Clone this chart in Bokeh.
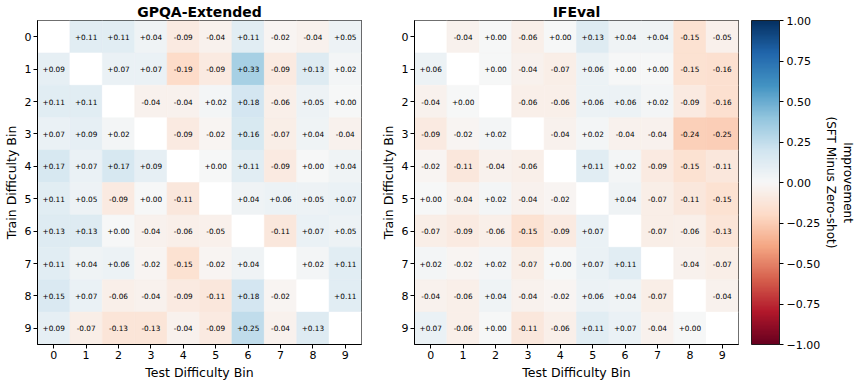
import numpy as np
from bokeh.plotting import figure
from bokeh.models import (Range1d, FixedTicker, LinearColorMapper, ColorBar,
                          LinearAxis, ColumnDataSource)
from bokeh.transform import transform
from bokeh.core.properties import value
from bokeh.layouts import row
from bokeh.embed import file_html
from bokeh.resources import INLINE

# ---------------- data ----------------
TRAIN_BINS = [0, 1, 2, 3, 4, 5, 6, 7, 8, 9]
TEST_BINS = [0, 1, 2, 3, 4, 5, 6, 7, 8, 9]
TICK_LABELS = ["0", "1", "2", "3", "4", "5", "6", "7", "8", "9"]

# rows = train bin, columns = test bin; None = diagonal (not shown)
GPQA = [
    [None, 0.11, 0.11, 0.04, -0.09, -0.04, 0.11, -0.02, -0.04, 0.05],
    [0.09, None, 0.07, 0.07, -0.19, -0.09, 0.33, -0.09, 0.13, 0.02],
    [0.11, 0.11, None, -0.04, -0.04, 0.02, 0.18, -0.06, 0.05, 0.00],
    [0.07, 0.09, 0.02, None, -0.09, -0.02, 0.16, -0.07, 0.04, -0.04],
    [0.17, 0.07, 0.17, 0.09, None, 0.00, 0.11, -0.09, 0.00, 0.04],
    [0.11, 0.05, -0.09, 0.00, -0.11, None, 0.04, 0.06, 0.05, 0.07],
    [0.13, 0.13, 0.00, -0.04, -0.06, -0.05, None, -0.11, 0.07, 0.05],
    [0.11, 0.04, 0.06, -0.02, -0.15, -0.02, 0.04, None, 0.02, 0.11],
    [0.15, 0.07, -0.06, -0.04, -0.09, -0.11, 0.18, -0.02, None, 0.11],
    [0.09, -0.07, -0.13, -0.13, -0.04, -0.09, 0.25, -0.04, 0.13, None],
]

IFEVAL = [
    [None, -0.04, 0.00, -0.06, 0.00, 0.13, 0.04, 0.04, -0.15, -0.05],
    [0.06, None, 0.00, -0.04, -0.07, 0.06, 0.00, 0.00, -0.15, -0.16],
    [-0.04, 0.00, None, -0.06, -0.06, 0.06, 0.06, 0.02, -0.09, -0.16],
    [-0.09, -0.02, 0.02, None, -0.04, 0.02, -0.04, -0.04, -0.24, -0.25],
    [-0.02, -0.11, -0.04, -0.06, None, 0.11, 0.02, -0.09, -0.15, -0.11],
    [0.00, -0.04, 0.02, -0.04, -0.02, None, 0.04, -0.07, -0.11, -0.15],
    [-0.07, -0.09, -0.06, -0.15, -0.09, 0.07, None, -0.07, -0.06, -0.13],
    [0.02, -0.02, 0.02, -0.07, 0.00, 0.07, 0.11, None, -0.04, -0.07],
    [-0.04, -0.06, 0.04, -0.04, -0.02, 0.06, 0.04, -0.07, None, -0.04],
    [0.07, -0.06, 0.00, -0.11, -0.06, 0.11, 0.07, -0.04, 0.00, None],
]

CB_TICKS = [-1.0, -0.75, -0.5, -0.25, 0.0, 0.25, 0.5, 0.75, 1.0]
CB_LABELS = ["\u22121.00", "\u22120.75", "\u22120.50", "\u22120.25", "0.00",
             "0.25", "0.50", "0.75", "1.00"]
CB_TITLE_LINES = ["Improvement", "(SFT Minus Zero-shot)"]

# ---------------- colour map (RdBu) ----------------
RDBU_ANCHORS = ["#67001f", "#b2182b", "#d6604d", "#f4a582", "#fddbc7", "#f7f7f7",
                "#d1e5f0", "#92c5de", "#4393c3", "#2166ac", "#053061"]


def build_palette(anchors, n=256):
    rgb = np.array([[int(h[i:i + 2], 16) for i in (1, 3, 5)] for h in anchors], float)
    pos = np.linspace(0, 1, len(anchors))
    t = np.linspace(0, 1, n)
    out = []
    for k in t:
        r = np.interp(k, pos, rgb[:, 0])
        g = np.interp(k, pos, rgb[:, 1])
        b = np.interp(k, pos, rgb[:, 2])
        out.append("#%02x%02x%02x" % (int(round(r)), int(round(g)), int(round(b))))
    return out


PALETTE = build_palette(RDBU_ANCHORS)
mapper = LinearColorMapper(palette=PALETTE, low=-1, high=1, nan_color="white")

FONT = "DejaVu Sans"
FRAME = 324


def style_axes(p):
    for ax in (p.xaxis[0], p.yaxis[0]):
        ax.major_tick_in = 0
        ax.major_tick_out = 4
        ax.minor_tick_in = 0
        ax.minor_tick_out = 0
        ax.major_tick_line_color = "black"
        ax.axis_line_color = "black"
        ax.major_label_text_font = FONT
        ax.major_label_text_font_size = "11px"
        ax.major_label_text_color = "black"
        ax.major_label_standoff = 2
        ax.axis_label_text_font = FONT
        ax.axis_label_text_font_size = "12.5px"
        ax.axis_label_text_font_style = "normal"
        ax.axis_label_text_color = "black"
        ax.axis_label_standoff = 3


def heatmap(title, matrix, right_border):
    xs, ys, vals, labels = [], [], [], []
    for r, rowvals in enumerate(matrix):
        for c, v in enumerate(rowvals):
            xs.append(TEST_BINS[c])
            ys.append(TRAIN_BINS[r])
            vals.append(np.nan if v is None else v)
            labels.append("" if v is None else f"{v:+.2f}")
    src = ColumnDataSource(dict(x=np.array(xs, float), y=np.array(ys, float),
                                v=np.array(vals, float), t=labels))
    p = figure(frame_width=FRAME, frame_height=FRAME,
               x_range=Range1d(-0.5, 9.5), y_range=Range1d(9.5, -0.5),
               output_backend="svg", toolbar_location=None, title=title,
               min_border_left=0, min_border_right=right_border,
               min_border_top=0, min_border_bottom=0)
    p.rect(x="x", y="y", width=1, height=1, source=src,
           fill_color=transform("v", mapper), line_color=transform("v", mapper),
           line_width=0.5)
    p.text(x="x", y="y", text="t", source=src, text_align="center",
           text_baseline="middle", text_font_size="7.3px",
           text_font=value(FONT), text_color="black")
    p.grid.visible = False
    p.outline_line_color = "black"
    p.outline_line_width = 1
    p.xaxis.ticker = FixedTicker(ticks=TEST_BINS)
    p.yaxis.ticker = FixedTicker(ticks=TRAIN_BINS)
    p.xaxis.major_label_overrides = {b: l for b, l in zip(TEST_BINS, TICK_LABELS)}
    p.yaxis.major_label_overrides = {b: l for b, l in zip(TRAIN_BINS, TICK_LABELS)}
    p.xaxis.axis_label = "Test Difficulty Bin"
    p.yaxis.axis_label = "Train Difficulty Bin"
    style_axes(p)
    p.title.align = "center"
    p.title.text_font = FONT
    p.title.text_font_size = "14px"
    p.title.text_font_style = "bold"
    p.title.text_color = "black"
    p.title.standoff = 2
    p.background_fill_color = "white"
    p.border_fill_color = "white"
    return p


p1 = heatmap("GPQA-Extended", GPQA, 16)
p2 = heatmap("IFEval", IFEVAL, 0)

# empty panel: horizontal gap between the heat map and the colour bar
gap_axis = LinearAxis(ticker=FixedTicker(ticks=[]), axis_label=" ",
                      axis_line_color=None,
                      major_tick_line_color=None, minor_tick_line_color=None,
                      major_tick_out=0, major_tick_in=0, minor_tick_out=0,
                      major_label_standoff=0, axis_label_standoff=9,
                      axis_label_text_font_size="1px")
p2.add_layout(gap_axis, "right")

cbar = ColorBar(color_mapper=mapper, ticker=FixedTicker(ticks=CB_TICKS),
                major_label_overrides={t: l for t, l in zip(CB_TICKS, CB_LABELS)},
                width=28, height=FRAME, margin=0, padding=0,
                major_tick_in=0, major_tick_out=4, major_tick_line_color="black",
                minor_tick_line_color=None,
                label_standoff=3, major_label_text_font=FONT,
                major_label_text_font_size="11px", major_label_text_color="black",
                bar_line_color="black", bar_line_width=0.8,
                border_line_color=None, background_fill_color=None)
p2.add_layout(cbar, "right")

# colour-bar title, one line per axis panel (second line nearest the bar)
for line in reversed(CB_TITLE_LINES):
    lab = LinearAxis(ticker=FixedTicker(ticks=[]), axis_label=line,
                     axis_line_color=None, major_tick_line_color=None,
                     minor_tick_line_color=None, major_tick_out=0, major_tick_in=0,
                     minor_tick_out=0, major_label_standoff=0,
                     axis_label_text_font=FONT, axis_label_text_font_size="12px",
                     axis_label_text_font_style="normal",
                     axis_label_text_color="black", axis_label_standoff=0)
    p2.add_layout(lab, "right")

layout = row(p1, p2)
open("out.html", "w").write(file_html(layout, INLINE))
